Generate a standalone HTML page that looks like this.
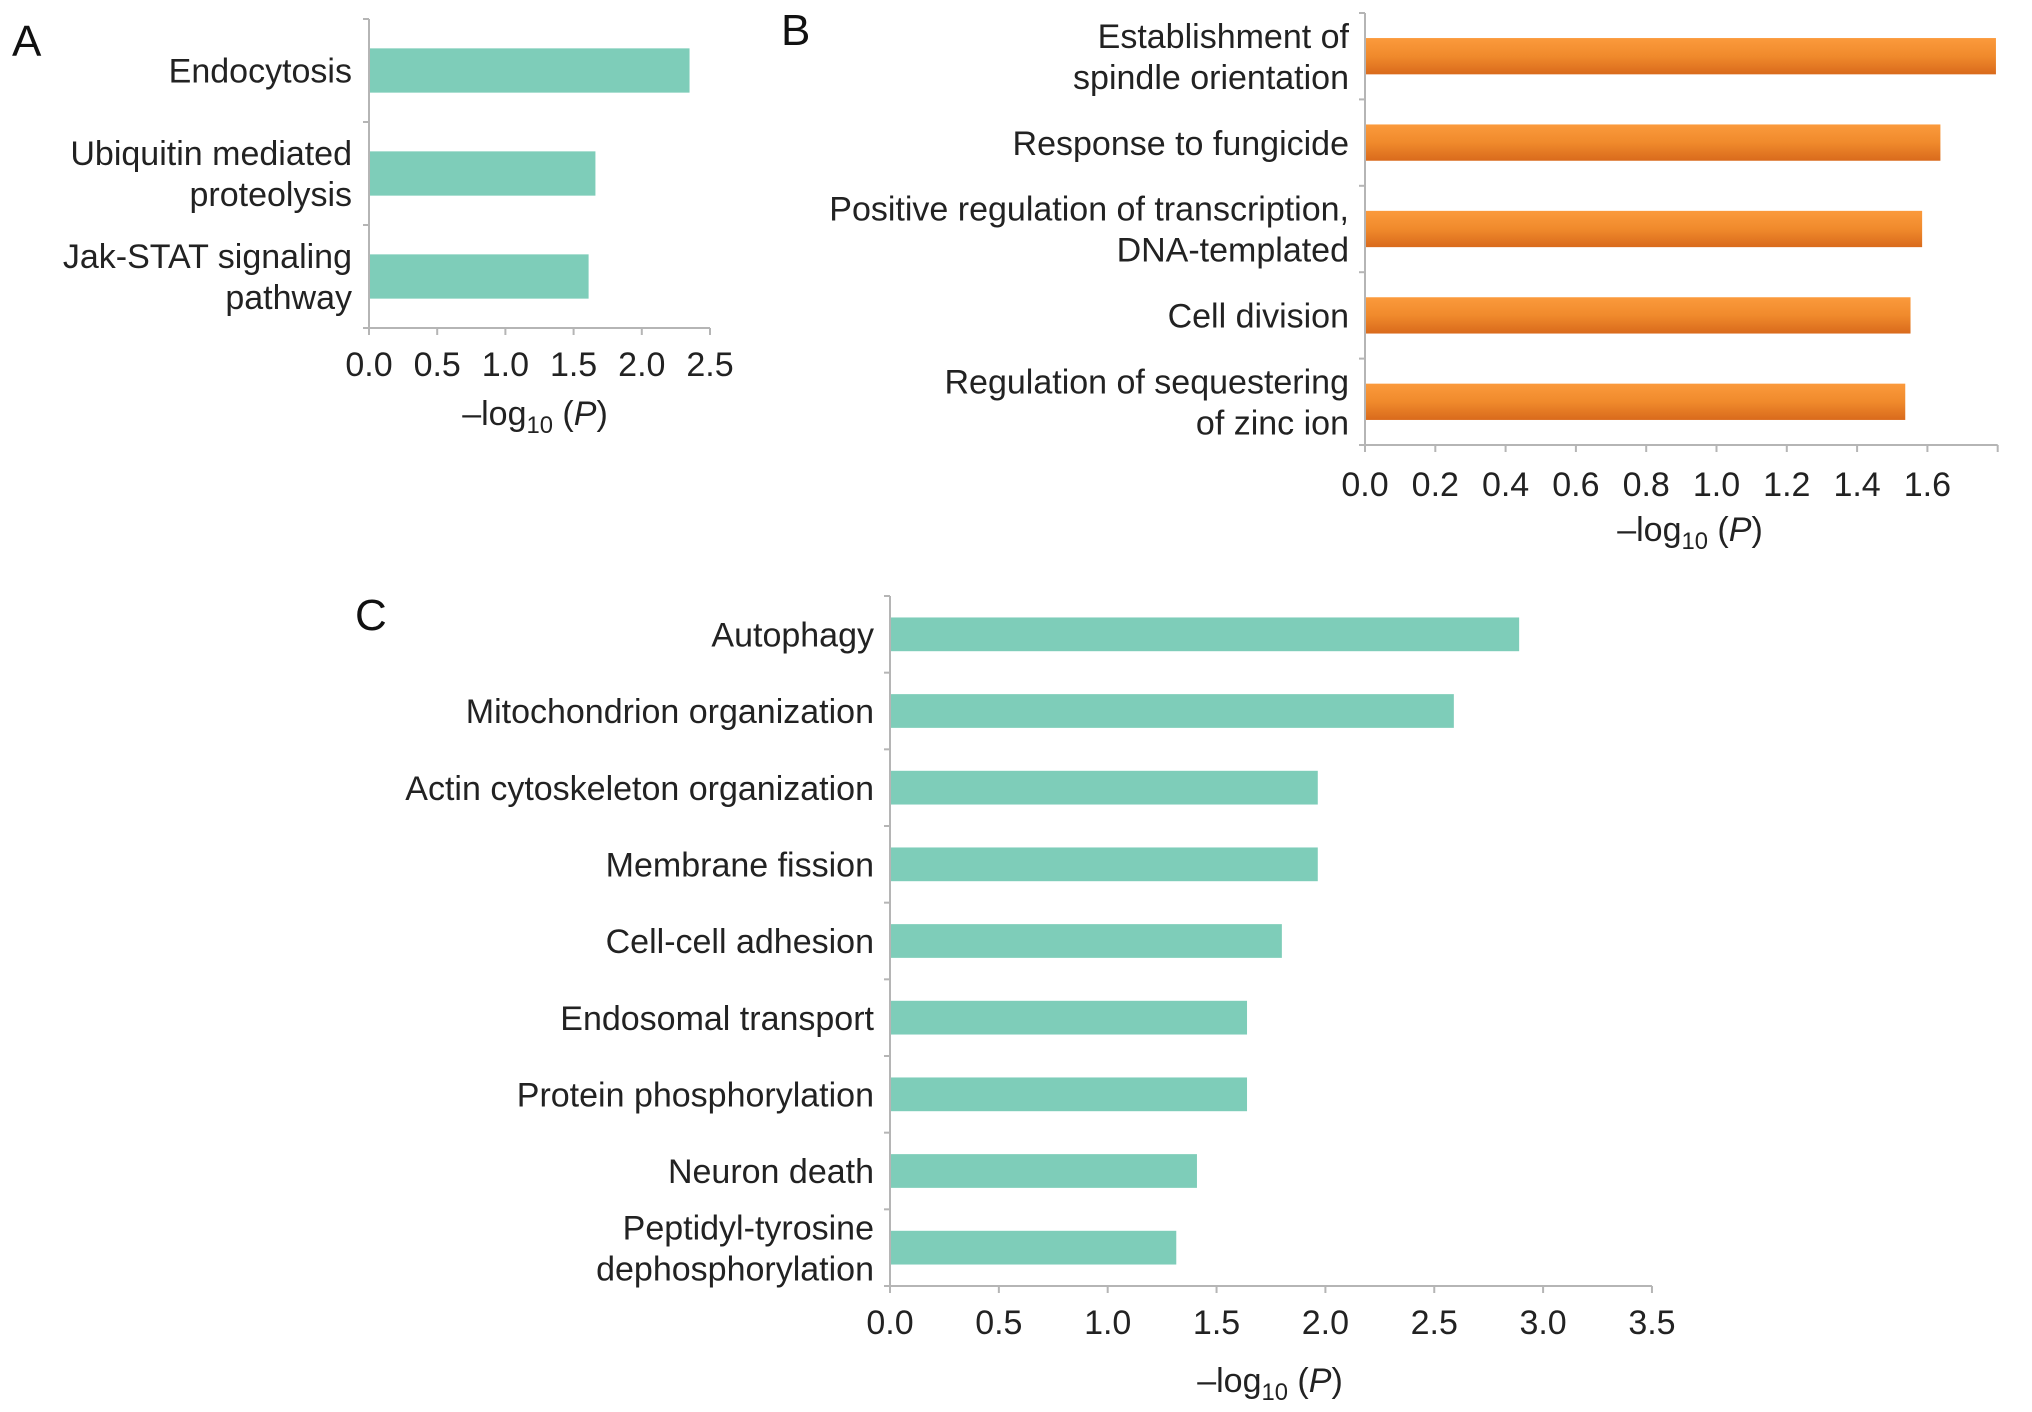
<!DOCTYPE html>
<html><head><meta charset="utf-8"><style>
html,body{margin:0;padding:0;background:#fff;}
svg{display:block;font-family:"Liberation Sans",Arial,sans-serif;}
</style></head><body>
<svg id="fig" width="2032" height="1412" viewBox="0 0 2032 1412" xmlns="http://www.w3.org/2000/svg">
<defs>
<linearGradient id="orangeGrad" x1="0" y1="0" x2="0" y2="1">
<stop offset="0" stop-color="#fb9a3c"/><stop offset="0.5" stop-color="#f08a2c"/><stop offset="1" stop-color="#d96a1c"/>
</linearGradient>
</defs>
<text x="12" y="56" font-size="44" fill="#111">A</text>
<text x="781" y="45" font-size="44" fill="#111">B</text>
<text x="355" y="630" font-size="44" fill="#111">C</text>
</svg>
<script>
const catsA = [["Endocytosis"],["Ubiquitin mediated","proteolysis"],["Jak-STAT signaling","pathway"]];
const valsA = [2.35, 1.66, 1.61];
const ticksA = ["0.0","0.5","1.0","1.5","2.0","2.5"];
const tickValsA = [0,0.5,1.0,1.5,2.0,2.5];

const catsB = [["Establishment of","spindle orientation"],["Response to fungicide"],["Positive regulation of transcription,","DNA-templated"],["Cell division"],["Regulation of sequestering","of zinc ion"]];
const valsB = [1.795, 1.637, 1.585, 1.552, 1.537];
const ticksB = ["0.0","0.2","0.4","0.6","0.8","1.0","1.2","1.4","1.6",""];
const tickValsB = [0,0.2,0.4,0.6,0.8,1.0,1.2,1.4,1.6,1.8];

const catsC = [["Autophagy"],["Mitochondrion organization"],["Actin cytoskeleton organization"],["Membrane fission"],["Cell-cell adhesion"],["Endosomal transport"],["Protein phosphorylation"],["Neuron death"],["Peptidyl-tyrosine","dephosphorylation"]];
const valsC = [2.89, 2.59, 1.965, 1.965, 1.80, 1.64, 1.64, 1.41, 1.315];
const ticksC = ["0.0","0.5","1.0","1.5","2.0","2.5","3.0","3.5"];
const tickValsC = [0,0.5,1.0,1.5,2.0,2.5,3.0,3.5];

const NS = "http://www.w3.org/2000/svg";
const svg = document.getElementById('fig');
function mk(tag, attrs){const e=document.createElementNS(NS,tag);for(const k in attrs)e.setAttribute(k,attrs[k]);return e;}

function panel(id, cats, vals, ticks, tickVals, cfg){
  const g = mk('g',{});
  
  
  svg.appendChild(g);
  const x = v => cfg.x0 + v*cfg.ppu;
  const band = (cfg.bottom - cfg.top)/cats.length;
  const axisEnd = x(tickVals[tickVals.length-1]);
  // y axis
  const ya = mk('line',{x1:cfg.x0,y1:cfg.top,x2:cfg.x0,y2:cfg.bottom,stroke:'#b5b5b5','stroke-width':2});
  
  
  g.appendChild(ya);
  for(let i=0;i<=cats.length;i++){
    const yy = cfg.top + i*band;
    g.appendChild(mk('line',{x1:cfg.x0-6,y1:yy,x2:cfg.x0,y2:yy,stroke:'#b5b5b5','stroke-width':2}));
  }
  // x axis
  const xa = mk('line',{x1:cfg.x0,y1:cfg.bottom,x2:axisEnd,y2:cfg.bottom,stroke:'#b5b5b5','stroke-width':2});
  
  
  g.appendChild(xa);
  tickVals.forEach((tv,i)=>{
    g.appendChild(mk('line',{x1:x(tv),y1:cfg.bottom,x2:x(tv),y2:cfg.bottom+7,stroke:'#b5b5b5','stroke-width':2}));
    const t = mk('text',{x:x(tv),y:cfg.tickY,'font-size':cfg.fs,'text-anchor':'middle',fill:'#222'});
    
    
    t.textContent = ticks[i];
    g.appendChild(t);
  });
  // bars + labels
  cats.forEach((lines,i)=>{
    const cy = cfg.top + (i+0.5)*band;
    const bh = band*cfg.barFrac;
    const r = mk('rect',{x:cfg.x0+1,y:cy-bh/2,width:x(vals[i])-cfg.x0-1,height:bh,fill:cfg.color});
    
    
    g.appendChild(r);
    const lh = 41;
    lines.forEach((ln,j)=>{
      const ty = cy + (j - (lines.length-1)/2)*lh + cfg.fs*0.36;
      const t = mk('text',{x:cfg.labelX,y:ty,'font-size':cfg.fs,'text-anchor':'end',fill:'#222'});
      
      
      t.textContent = ln;
      g.appendChild(t);
    });
  });
  // axis title
  const tt = mk('text',{x:cfg.titleX,y:cfg.titleY,'font-size':cfg.fs,'text-anchor':'middle',fill:'#222'});
  
  
  tt.innerHTML = '\u2013log<tspan font-size="'+(cfg.fs*0.7)+'" dy="8">10</tspan><tspan dy="-8"> (</tspan><tspan font-style="italic">P</tspan>)';
  g.appendChild(tt);
}

panel('panel-a', catsA, valsA, ticksA, tickValsA,
  {x0:369, ppu:136.4, top:19, bottom:328, tickY:376, titleX:535, titleY:425, fs:34, barFrac:0.43, color:'#7ecdb9', labelX:352});
panel('panel-b', catsB, valsB, ticksB, tickValsB,
  {x0:1365, ppu:351.5, top:13, bottom:445, tickY:496, titleX:1690, titleY:541, fs:34, barFrac:0.42, color:'url(#orangeGrad)', labelX:1349});
panel('panel-c', catsC, valsC, ticksC, tickValsC,
  {x0:890, ppu:217.7, top:596, bottom:1286, tickY:1334, titleX:1270, titleY:1392, fs:34, barFrac:0.44, color:'#7ecdb9', labelX:874});
</script>
</body></html>
